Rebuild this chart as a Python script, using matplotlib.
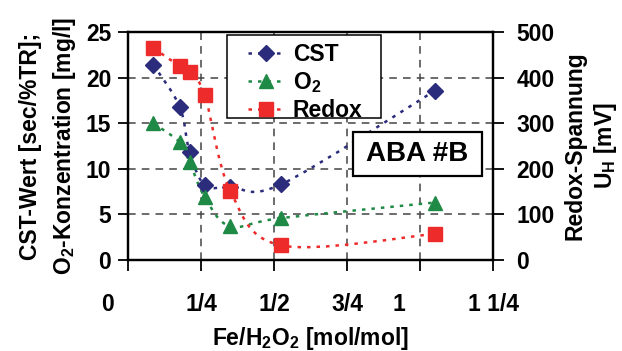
import matplotlib.pyplot as plt
import numpy as np
from matplotlib.path import Path
from matplotlib.patches import PathPatch, Rectangle
from matplotlib.lines import Line2D
from matplotlib.transforms import ScaledTranslation

plt.rcParams['font.family'] = ['Liberation Sans', 'DejaVu Sans']
plt.rcParams['font.weight'] = 'bold'
plt.rcParams['axes.labelweight'] = 'bold'
plt.rcParams['mathtext.fontset'] = 'custom'
plt.rcParams['mathtext.rm'] = 'Liberation Sans:bold'
plt.rcParams['mathtext.bf'] = 'Liberation Sans:bold'
plt.rcParams['mathtext.it'] = 'Liberation Sans:bold'
plt.rcParams['mathtext.default'] = 'bf'

# Fe/H2O2 ratio [mol/mol]
ratio = [0.087, 0.177, 0.211, 0.263, 0.350, 0.525, 1.050]
cst = [21.4, 16.8, 11.8, 8.2, 8.05, 8.3, 18.55]        # sec/%TR
o2 = [15.0, 12.9, 10.7, 6.9, 3.7, 4.6, 6.3]            # mg/l
redox = [465, 425, 412, 361, 152, 32, 57]              # mV

xticks = [0, 0.25, 0.5, 0.75, 1.0, 1.25]
xticklabels = ['0', '1/4', '1/2', '3/4', '1', '1 1/4']

c_cst = '#2b2c7c'
c_o2 = '#1f8a45'
c_red = '#ee2b2b'
dots = (0, (1.4, 2.4))
fs = 16.5


def smooth_path(x, y):
    # Excel-like smoothed line: Catmull-Rom segments as cubic Bezier
    p = np.column_stack([x, y]).astype(float)
    verts = [p[0]]
    codes = [Path.MOVETO]
    n = len(p)
    for i in range(n - 1):
        p0 = p[i - 1] if i > 0 else p[i]
        p3 = p[i + 2] if i + 2 < n else p[i + 1]
        c1 = p[i] + (p[i + 1] - p0) / 6
        c2 = p[i + 1] - (p3 - p[i]) / 6
        verts += [c1, c2, p[i + 1]]
        codes += [Path.CURVE4] * 3
    return Path(verts, codes)


fig = plt.figure(figsize=(6.22, 3.51), dpi=100)
ax = fig.add_axes([128 / 622, 91 / 351, 365 / 622, 228 / 351])
ax2 = ax.twinx()

ax.add_patch(PathPatch(smooth_path(ratio, cst), fill=False, color=c_cst,
                       lw=1.8, ls=dots, zorder=3))
ax.add_patch(PathPatch(smooth_path(ratio, o2), fill=False, color=c_o2,
                       lw=1.8, ls=dots, zorder=3))
ax2.add_patch(PathPatch(smooth_path(ratio, redox), fill=False, color=c_red,
                        lw=1.8, ls=dots, zorder=3))
ax.plot(ratio, cst, ls='none', marker='D', ms=8.5, color=c_cst, zorder=4)
ax.plot(ratio, o2, ls='none', marker='^', ms=10, color=c_o2, zorder=4)
ax2.plot(ratio, redox, ls='none', marker='s', ms=9.5, color=c_red, zorder=4)

ax.set_xlim(0, 1.25)
ax.set_ylim(0, 25)
ax2.set_ylim(0, 500)
ax.set_yticks(range(0, 26, 5))
ax2.set_yticks(range(0, 501, 100))
ax.set_xticks(xticks)
ax.set_xticklabels(xticklabels)

ax.grid(True, color='#444444', ls=(0, (5, 4)), lw=1.1)
ax.set_axisbelow(True)
for a in (ax, ax2):
    for s in a.spines.values():
        s.set_linewidth(1.6)
ax.tick_params(axis='x', direction='out', length=8, width=1.3, pad=16,
               labelsize=fs)
ax.tick_params(axis='y', direction='out', length=7, width=1.3, pad=5,
               labelsize=fs)
ax2.tick_params(axis='y', direction='out', length=8, width=1.3, pad=9,
                labelsize=fs)

# "0" and "1" sit left of their ticks in the original
shift = ScaledTranslation(-21 / 100, 0, fig.dpi_scale_trans)
for lab in ax.get_xticklabels():
    if lab.get_text() in ('0', '1'):
        lab.set_transform(lab.get_transform() + shift)

ax.set_xlabel('Fe/H$_2$O$_2$ [mol/mol]', fontsize=fs, labelpad=6)
ax.set_ylabel('CST-Wert [sec/%TR];\nO$_2$-Konzentration [mg/l]',
              fontsize=fs, linespacing=1.45, labelpad=6)
ax2.set_ylabel('Redox-Spannung\nU$_H$ [mV]', fontsize=fs, rotation=90,
               linespacing=1.3, labelpad=6)

# legend: frame drawn separately so its padding matches the original
ax2.add_patch(Rectangle((0.271, 0.623), 0.422, 0.364, transform=ax2.transAxes,
                        fc='white', ec='black', lw=1.1, zorder=9))
handles = [
    Line2D([], [], color=c_cst, ls=dots, lw=1.8, marker='D', ms=8.5),
    Line2D([], [], color=c_o2, ls=dots, lw=1.8, marker='^', ms=10),
    Line2D([], [], color=c_red, ls=dots, lw=1.8, marker='s', ms=9.5),
]
leg = ax2.legend(handles, ['CST', 'O$_2$', 'Redox'], loc='upper left',
                 bbox_to_anchor=(0.329, 0.952),
                 prop={'family': ['Liberation Sans'], 'weight': 'bold',
                       'size': fs},
                 frameon=False, borderaxespad=0, borderpad=0,
                 handlelength=1.6, handletextpad=0.35, labelspacing=0.17)
leg.set_zorder(10)

ax2.add_patch(Rectangle((0.616, 0.368), 0.353, 0.195, transform=ax2.transAxes,
                        fc='white', ec='black', lw=1.6, zorder=9))
ax2.text(0.792, 0.465, 'ABA #B', transform=ax2.transAxes, fontsize=20,
         ha='center', va='center', zorder=10)

fig.savefig('out.png', dpi=100)
